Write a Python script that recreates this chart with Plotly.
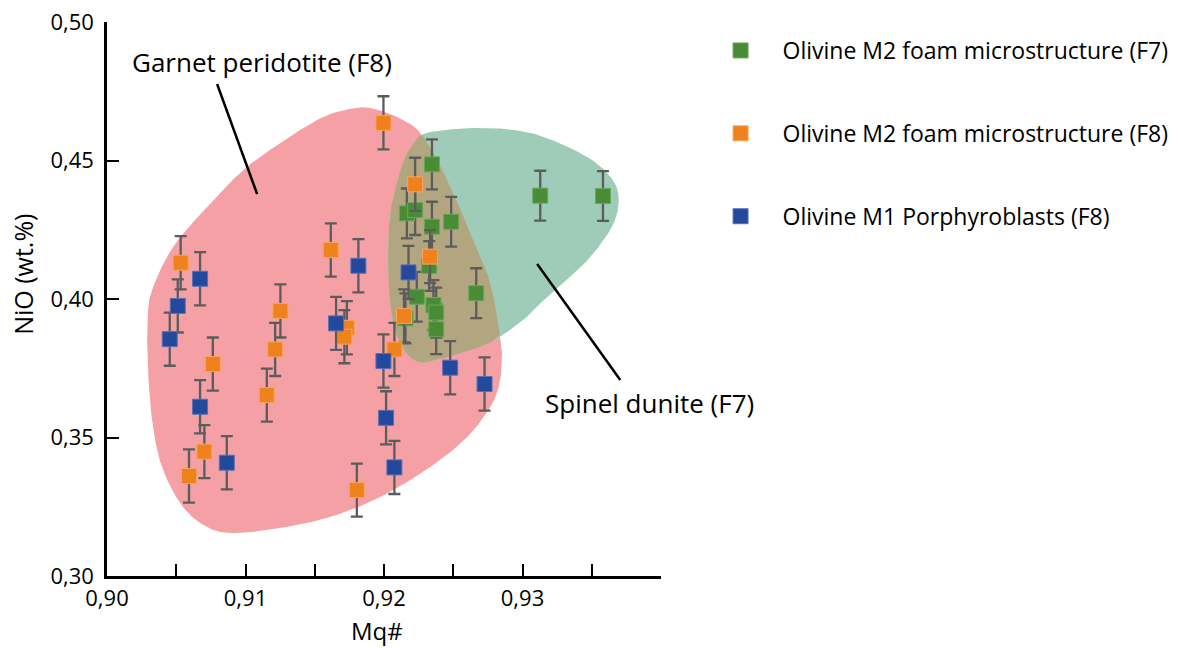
import numpy as np
import plotly.graph_objects as go

# ---- data: Mg# vs NiO (wt.%) -------------------------------------------
green_name = "Olivine M2 foam microstructure (F7)"
green_mg = [0.92346, 0.92165, 0.92225, 0.92346, 0.92485, 0.92326, 0.92237,
            0.92357, 0.92377, 0.92377, 0.92666, 0.92155, 0.93128, 0.93581]
green_nio = [0.4486, 0.4309, 0.4321, 0.4261, 0.4279, 0.4119, 0.4008,
             0.3978, 0.3951, 0.3891, 0.4021, 0.3930, 0.4373, 0.4372]
green_err = 0.009

orange_name = "Olivine M2 foam microstructure (F8)"
orange_mg = [0.91996, 0.92225, 0.91616, 0.92333, 0.92145, 0.91732, 0.91714,
             0.92075, 0.91804, 0.90532, 0.91252, 0.91214, 0.90764, 0.91154,
             0.90703, 0.90592]
orange_nio = [0.4636, 0.4414, 0.4177, 0.4153, 0.3939, 0.3896, 0.3864,
              0.3818, 0.3310, 0.4131, 0.3957, 0.3818, 0.3765, 0.3653,
              0.3449, 0.3361]
orange_err = 0.0096

blue_name = "Olivine M1 Porphyroblasts (F8)"
blue_mg = [0.91815, 0.92177, 0.91654, 0.91996, 0.92478, 0.92726, 0.92015,
           0.92075, 0.90672, 0.90511, 0.90453, 0.90672, 0.90865]
blue_nio = [0.4120, 0.4096, 0.3912, 0.3776, 0.3752, 0.3693, 0.3571,
            0.3392, 0.4073, 0.3975, 0.3855, 0.3611, 0.3409]
blue_err = 0.0096

# ---- field outlines (control points, data units) -----------------------
garnet_mg = [0.91900, 0.92138, 0.92283, 0.92456, 0.92644, 0.92767, 0.92839,
             0.92851, 0.92832, 0.92767, 0.92601, 0.92333, 0.91972, 0.91611,
             0.91250, 0.90910, 0.90722, 0.90549, 0.90405, 0.90332, 0.90296,
             0.90293, 0.90325, 0.90477, 0.90722, 0.90961, 0.91177, 0.91517,
             0.91719]
garnet_nio = [0.46895, 0.46462, 0.45859, 0.44296, 0.42130, 0.40578, 0.38628,
              0.37798, 0.36895, 0.36101, 0.35018, 0.33935, 0.32852, 0.32130,
              0.31733, 0.31552, 0.31769, 0.32491, 0.33827, 0.35379, 0.37437,
              0.39242, 0.40325, 0.41877, 0.43321, 0.44549, 0.45379, 0.46462,
              0.46823]

spinel_mg = [0.92283, 0.92478, 0.92695, 0.92911, 0.93150, 0.93465, 0.93634,
             0.93694, 0.93658, 0.93513, 0.93345, 0.93176, 0.93032, 0.92839,
             0.92695, 0.92454, 0.92285, 0.92189, 0.92117, 0.92066, 0.92037,
             0.92030, 0.92044, 0.92080, 0.92138, 0.92203]
spinel_nio = [0.45957, 0.46119, 0.46173, 0.46119, 0.45859, 0.45137, 0.44415,
              0.43693, 0.42733, 0.41650, 0.40805, 0.40083, 0.39361, 0.38639,
              0.38278, 0.37906, 0.37708, 0.37906, 0.38412, 0.39134, 0.40325,
              0.41769, 0.43032, 0.43935, 0.44946, 0.45560]

x_ticks = [0.90, 0.905, 0.91, 0.915, 0.92, 0.925, 0.93, 0.935]
x_tick_text = ["0,90", "", "0,91", "", "0,92", "", "0,93", ""]
y_ticks = [0.30, 0.35, 0.40, 0.45, 0.50]

FONT = "Open Sans"
COL_GREEN = "#4a8c35"
COL_ORANGE = "#f0821e"
COL_BLUE = "#22499b"
FILL_GARNET = "#f4a0a4"
FILL_SPINEL = "#9eccb8"
FILL_BOTH = "#b2a680"


def smooth_closed(xs, ys, n=16):
    """Periodic Catmull-Rom spline through the control points."""
    p = np.column_stack([xs, ys])
    m = len(p)
    t = np.linspace(0, 1, n, endpoint=False)[:, None]
    out = []
    for i in range(m):
        p0, p1, p2, p3 = p[i - 1], p[i], p[(i + 1) % m], p[(i + 2) % m]
        out.append(0.5 * (2 * p1 + (-p0 + p2) * t
                          + (2 * p0 - 5 * p1 + 4 * p2 - p3) * t ** 2
                          + (-p0 + 3 * p1 - 3 * p2 + p3) * t ** 3))
    return np.vstack(out)


def clip_polygon(subject, clipper):
    """Sutherland-Hodgman clipping of subject by a convex clipper."""
    area = 0.5 * np.sum(clipper[:, 0] * np.roll(clipper[:, 1], -1)
                        - np.roll(clipper[:, 0], -1) * clipper[:, 1])
    sgn = 1.0 if area > 0 else -1.0

    def inside(q, a, b):
        return sgn * ((b[0] - a[0]) * (q[1] - a[1]) - (b[1] - a[1]) * (q[0] - a[0])) >= 0

    def cross_pt(s, e, a, b):
        d1, d2 = e - s, b - a
        den = d1[0] * d2[1] - d1[1] * d2[0]
        u = ((a[0] - s[0]) * d2[1] - (a[1] - s[1]) * d2[0]) / den
        return s + u * d1

    out = list(subject)
    for i in range(len(clipper)):
        a, b = clipper[i], clipper[(i + 1) % len(clipper)]
        inp, out = out, []
        if not inp:
            break
        s = inp[-1]
        for e in inp:
            if inside(e, a, b):
                if not inside(s, a, b):
                    out.append(cross_pt(s, e, a, b))
                out.append(e)
            elif inside(s, a, b):
                out.append(cross_pt(s, e, a, b))
            s = e
    return np.array(out)


garnet = smooth_closed(garnet_mg, garnet_nio)
spinel = smooth_closed(spinel_mg, spinel_nio)
overlap = clip_polygon(garnet, spinel)

fig = go.Figure()


def add_field(poly, color):
    fig.add_trace(go.Scatter(
        x=np.append(poly[:, 0], poly[0, 0]), y=np.append(poly[:, 1], poly[0, 1]),
        mode="lines", fill="toself", fillcolor=color, line=dict(width=0, color=color),
        hoverinfo="skip", showlegend=False))


add_field(garnet, FILL_GARNET)
add_field(spinel, FILL_SPINEL)
add_field(overlap, FILL_BOTH)


def add_series(name, xs, ys, err, color, edge, group):
    fig.add_trace(go.Scatter(
        x=xs, y=ys, name=name, mode="markers", legendgroup=group,
        marker=dict(symbol="square", size=15, color=color,
                    line=dict(width=1, color=edge)),
        error_y=dict(type="constant", value=err, color="#5c5c5c",
                     thickness=2.3, width=6)))


add_series(green_name, green_mg, green_nio, green_err, COL_GREEN, "#6aa85a", "g")
add_series(orange_name, orange_mg, orange_nio, orange_err, COL_ORANGE, "#f6a560", "o")
add_series(blue_name, blue_mg, blue_nio, blue_err, COL_BLUE, "#5a6fb8", "b")

# leader lines for the field labels
for x0, y0, x1, y1 in [(0.90795, 0.47762, 0.91084, 0.43791),
                       (0.93106, 0.41264, 0.93706, 0.37076)]:
    fig.add_shape(type="line", x0=x0, y0=y0, x1=x1, y1=y1, xref="x", yref="y",
                  line=dict(color="black", width=2.5))

fig.add_annotation(x=0.90166, y=0.48556, xref="x", yref="y", text="Garnet peridotite (F8)",
                   showarrow=False, xanchor="left", yanchor="middle",
                   font=dict(family=FONT, size=26, color="black"))
fig.add_annotation(x=0.93150, y=0.36245, xref="x", yref="y", text="Spinel dunite (F7)",
                   showarrow=False, xanchor="left", yanchor="middle",
                   font=dict(family=FONT, size=26, color="black"))

# axis titles
fig.add_annotation(x=-0.152, y=0.545, xref="paper", yref="paper", text="NiO (wt.%)",
                   textangle=-90, showarrow=False, xanchor="center", yanchor="middle",
                   font=dict(family=FONT, size=25, color="black"))
fig.add_annotation(x=0.487, y=-0.1315, xref="paper", yref="paper", text="Mq#",
                   showarrow=False, xanchor="center", yanchor="bottom",
                   font=dict(family=FONT, size=24, color="black"))

axis_common = dict(showline=True, linecolor="black", linewidth=2.5, mirror=False,
                   ticks="inside", ticklen=12, tickwidth=2.3, tickcolor="black",
                   showgrid=False, zeroline=False, automargin=False,
                   tickfont=dict(family=FONT, size=22, color="black"))

fig.update_xaxes(range=[0.90, 0.94], tickmode="array", tickvals=x_ticks,
                 ticktext=x_tick_text, ticklabelstandoff=1, **axis_common)
fig.update_yaxes(range=[0.30, 0.50], tickmode="array", tickvals=y_ticks,
                 tickformat=".2f", ticklabelstandoff=6, **axis_common)

fig.update_layout(
    width=1180, height=648,
    margin=dict(l=107, r=519, t=22, b=72, autoexpand=False),
    paper_bgcolor="white", plot_bgcolor="white",
    separators=", ",
    font=dict(family=FONT, size=22, color="black"),
    legend=dict(x=1.0678, y=0.9874, xanchor="left", yanchor="top",
                font=dict(family=FONT, size=23, color="black"),
                itemwidth=74, tracegroupgap=50, bgcolor="rgba(0,0,0,0)"),
)

fig.write_html("out.html")
